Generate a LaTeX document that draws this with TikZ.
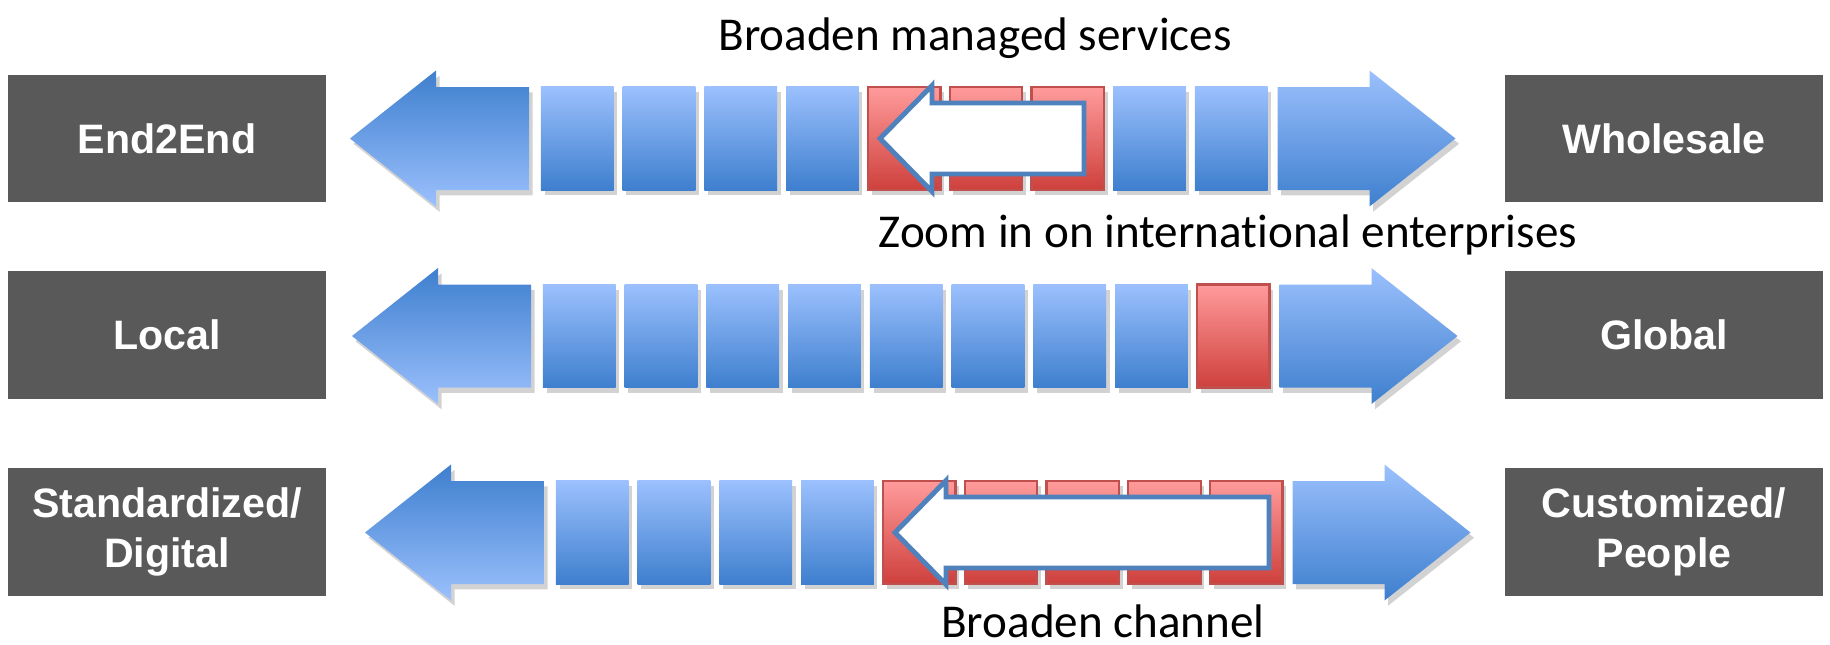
\documentclass[tikz,border=0pt]{standalone}
\usepackage{fontspec}
\setmainfont{Carlito}[Ligatures=NoCommon]
\newfontfamily\boxfont{Liberation Sans}
\usepackage{tikz}
\usetikzlibrary{positioning,shadows}

\definecolor{boxgray}{RGB}{89,89,89}
\definecolor{blklight}{RGB}{155,192,253}
\definecolor{blkdark}{RGB}{62,127,206}
\definecolor{redlight}{RGB}{255,155,155}
\definecolor{reddark}{RGB}{206,64,60}
\definecolor{redline}{RGB}{192,80,77}
\definecolor{outlineblue}{RGB}{79,129,189}

\tikzset{
  label box/.style={fill=boxgray, minimum width=3.18cm, minimum height=1.27cm, inner sep=0pt,
    align=center, text=white, font=\boxfont\bfseries\fontsize{11.7}{14.2}\selectfont},
  soft shadow/.style={drop shadow={shadow xshift=1pt, shadow yshift=-1.5pt, opacity=0.25, fill=black!70}},
  blk/.style={minimum width=0.725cm, minimum height=1.03cm, inner sep=0pt, soft shadow},
  blue blk/.style={blk, top color=blklight, bottom color=blkdark},
  red blk/.style={blk, top color=redlight, bottom color=reddark, draw=redline, line width=0.6pt},
  inner arrow/.style={draw=outlineblue, line width=1.4pt, fill=white, line join=miter},
  title/.style={font=\fontsize{13.4}{16}\selectfont, anchor=base, inner sep=0pt}
}

\begin{document}
\begin{tikzpicture}[x=0.01cm,y=-0.01cm]
  \useasboundingbox (0,0) rectangle (1830,644);

  % side boxes
  \node[label box] (end2end) at (167,138.5) {End2End};
  \node[label box] (wholesale) at (1664,138.5) {Wholesale};
  \node[label box] (local) at (167,335) {Local};
  \node[label box] (global) at (1664,335) {Global};
  \node[label box] (standard) at (167,532) {Standardized/\\Digital};
  \node[label box] (custom) at (1664,532) {Customized/\\People};

  % big arrows, b = first block, e = last block end
  \foreach \b/\e/\y in {541/1267.5/138.5, 543/1269.5/336, 556/1282.5/532.5} {
    \path[soft shadow, top color=blkdark, bottom color=blklight]
      ({\b-12},{\y-51.5}) -- ({\b-105},{\y-51.5}) -- ({\b-105},{\y-68}) -- ({\b-191},\y)
      -- ({\b-105},{\y+68}) -- ({\b-105},{\y+51.5}) -- ({\b-12},{\y+51.5}) -- cycle;
    \path[soft shadow, top color=blklight, bottom color=blkdark]
      ({\e+10},{\y-51.5}) -- ({\e+102},{\y-51.5}) -- ({\e+102},{\y-68}) -- ({\e+188},\y)
      -- ({\e+102},{\y+68}) -- ({\e+102},{\y+51.5}) -- ({\e+10},{\y+51.5}) -- cycle;
  }

  % row 1
  \foreach \i/\s in {0/blue blk,1/blue blk,2/blue blk,3/blue blk,4/red blk,5/red blk,6/red blk,7/blue blk,8/blue blk}
    \node[\s] (a\i) at (577.25+\i*81.75,138.5) {};
  \draw[inner arrow] (1084,103) -- (932,103) -- (932,85.5) -- (880,138.5)
    -- (932,191.5) -- (932,174) -- (1084,174) -- cycle;

  % row 2
  \foreach \i/\s in {0/blue blk,1/blue blk,2/blue blk,3/blue blk,4/blue blk,5/blue blk,6/blue blk,7/blue blk,8/red blk}
    \node[\s] (b\i) at (579.25+\i*81.75,336) {};

  % row 3
  \foreach \i/\s in {0/blue blk,1/blue blk,2/blue blk,3/blue blk,4/red blk,5/red blk,6/red blk,7/red blk,8/red blk}
    \node[\s] (c\i) at (592.25+\i*81.75,532.5) {};
  \draw[inner arrow] (1269,497) -- (946,497) -- (946,480.5) -- (895,532.5)
    -- (946,584.5) -- (946,568) -- (1269,568) -- cycle;

  % titles
  \node[title] (services) at (975,50) {Broaden managed services};
  \node[title] (intl) at (1228,247) {Zoom in on international enterprises};
  \node[title] (channel) at (1103,637) {Broaden channel};
\end{tikzpicture}
\end{document}
